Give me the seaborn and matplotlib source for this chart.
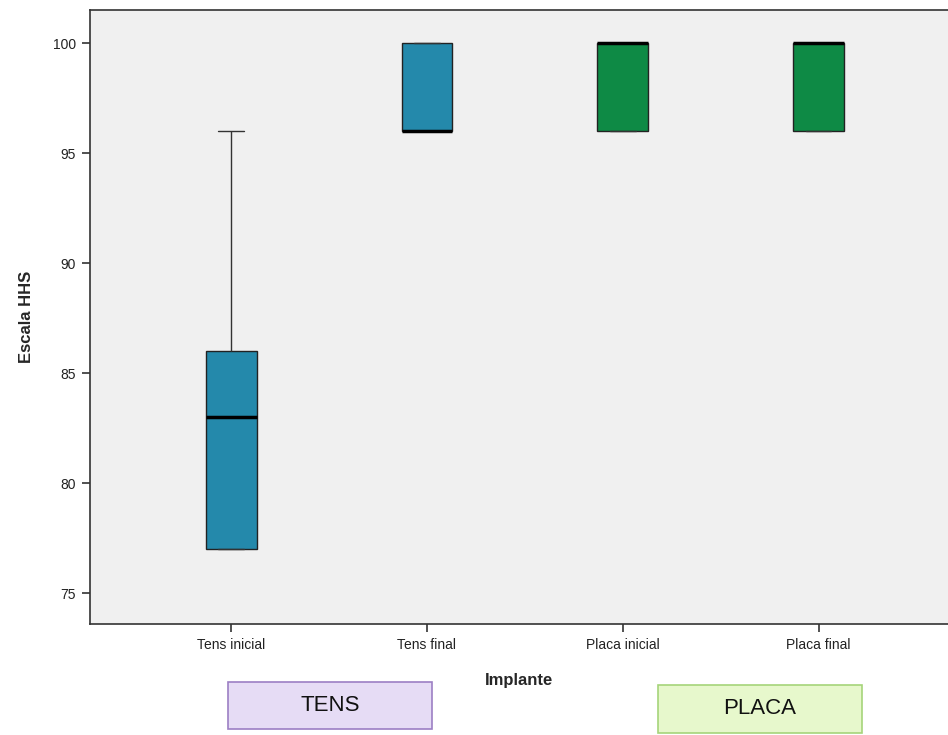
import pandas as pd
import matplotlib.pyplot as plt
import seaborn as sns
from matplotlib.patches import FancyBboxPatch

# HHS scores (quartiles, median, whiskers)
tens_inicial = [77, 77, 77, 80, 83, 85, 86, 86, 96]
tens_final = [96, 96, 96, 96, 96, 100, 100, 100, 100]
placa_inicial = [96, 96, 96, 100, 100, 100, 100, 100, 100]
placa_final = [96, 96, 96, 100, 100, 100, 100, 100, 100]

groups = ['Tens inicial', 'Tens final', 'Placa inicial', 'Placa final']
box_colors = ['#2489ab', '#2489ab', '#0e8a45', '#0e8a45']

df = pd.DataFrame({
    'Implante': [g for g, vals in zip(groups, [tens_inicial, tens_final, placa_inicial, placa_final]) for _ in vals],
    'Escala HHS': tens_inicial + tens_final + placa_inicial + placa_final,
})

sns.set_style('ticks')
plt.rcParams['font.family'] = ['Liberation Sans', 'DejaVu Sans']

fig = plt.figure(figsize=(9.48, 7.35), dpi=100)
ax = fig.add_axes([0.095, 0.151, 0.905, 0.835])
ax.set_facecolor('#f0f0f0')

sns.boxplot(data=df, x='Implante', y='Escala HHS', hue='Implante', palette=box_colors,
            order=groups, hue_order=groups, legend=False, width=0.26, whis=1.5,
            saturation=1, linewidth=1, linecolor='#222222', showfliers=False,
            medianprops={'color': 'black', 'linewidth': 2.5},
            whiskerprops={'color': '#333333', 'linewidth': 1},
            capprops={'color': '#333333', 'linewidth': 1}, ax=ax)

ax.set_xlim(-0.72, 3.66)
ax.set_ylim(73.6, 101.5)
ax.set_yticks([75, 80, 85, 90, 95, 100])
ax.tick_params(axis='both', direction='out', length=6, width=1.2, color='#333333',
               labelsize=10, labelcolor='#222222', pad=4)
for side in ['left', 'bottom', 'top']:
    ax.spines[side].set_color('#333333')
    ax.spines[side].set_linewidth(1.2)
ax.spines['right'].set_visible(False)

ax.set_ylabel('Escala HHS', fontsize=12, fontweight='bold', labelpad=14)
ax.set_xlabel('Implante', fontsize=12, fontweight='bold', labelpad=15)

# group labels below the axis
def group_box(x0, y0, w, h, text, face, edge):
    patch = FancyBboxPatch((x0, y0), w, h, boxstyle='square,pad=0', transform=fig.transFigure,
                           facecolor=face, edgecolor=edge, linewidth=1.2, clip_on=False)
    fig.add_artist(patch)
    fig.text(x0 + w / 2, y0 + h / 2, text, ha='center', va='center', fontsize=16, color='#111111')

group_box(228 / 948, 1 - 729 / 735, 204 / 948, 47 / 735, 'TENS', '#e6dcf5', '#9c7fc4')
group_box(658 / 948, 1 - 733 / 735, 204 / 948, 48 / 735, 'PLACA', '#e7f8cc', '#a6d47a')

plt.savefig('out.png', dpi=100)
